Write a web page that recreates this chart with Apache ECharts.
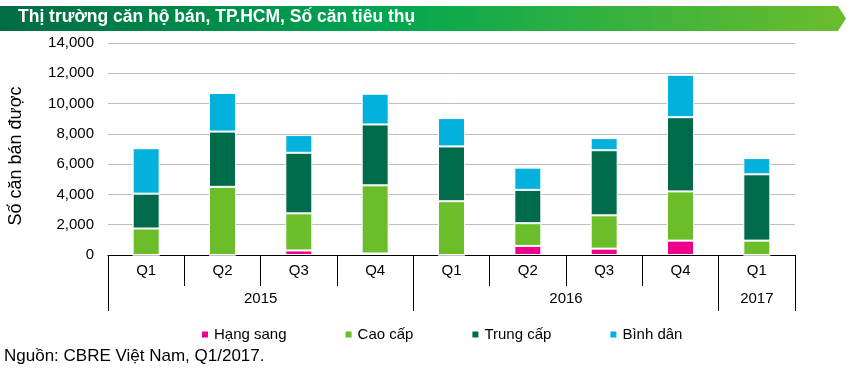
<!DOCTYPE html>
<html>
<head>
<meta charset="utf-8">
<script src="https://cdn.jsdelivr.net/npm/echarts@6/dist/echarts.min.js"></script>
<style>
  html, body { margin: 0; padding: 0; background: #fff; }
  #chart { width: 851px; height: 375px; }
</style>
</head>
<body>
<div id="chart"></div>
<script>
const quarters = ['Q1', 'Q2', 'Q3', 'Q4', 'Q1', 'Q2', 'Q3', 'Q4', 'Q1'];
const years = ['2015', '2016', '2017'];
const yearSpans = [4, 4, 1];

const hangSang = [0, 0, 300, 100, 0, 600, 420, 950, 0];
const caoCap = [1750, 4500, 2450, 4500, 3550, 1500, 2200, 3250, 950];
const trungCap = [2300, 3650, 4000, 4020, 3620, 2200, 4300, 4900, 4380];
const binhDan = [3000, 2550, 1170, 2030, 1870, 1470, 800, 2800, 1070];

const yTicks = [0, 2000, 4000, 6000, 8000, 10000, 12000, 14000];

const FONT = '"Liberation Sans", Arial, sans-serif';

// year row: half-category slots so labels sit in the middle of each year group
const yearSlots = [];
const yearLabelIdx = {};
const yearTickIdx = {0: true};
let pos = 0;
years.forEach((y, i) => {
  yearLabelIdx[pos + yearSpans[i]] = y;
  pos += yearSpans[i] * 2;
  yearTickIdx[pos] = true;
});
for (let i = 0; i <= quarters.length * 2; i++) {
  yearSlots.push(yearLabelIdx[i] || '');
}

const chart = echarts.init(document.getElementById('chart'));

const seriesDef = [
  {name: 'Hạng sang', data: hangSang, color: '#ec008c'},
  {name: 'Cao cấp', data: caoCap, color: '#6bbd29'},
  {name: 'Trung cấp', data: trungCap, color: '#006b4b'},
  {name: 'Bình dân', data: binhDan, color: '#03b1dd'},
];

const option = {
  animation: false,
  textStyle: {fontFamily: FONT},
  grid: {left: 108, right: 56, top: 43, bottom: 120, containLabel: false, outerBoundsMode: 'none'},
  legend: {
    left: 195,
    top: 322,
    icon: 'rect',
    itemWidth: 8,
    itemHeight: 8,
    itemGap: 57,
    textStyle: {fontSize: 15, color: '#000', fontFamily: FONT},
    data: seriesDef.map((s) => s.name),
  },
  graphic: [
    {
      type: 'polygon',
      shape: {points: [[0, 6], [838, 6], [846, 18.5], [838, 31], [0, 31]]},
      style: {
        fill: new echarts.graphic.LinearGradient(0, 0, 1, 0, [
          {offset: 0, color: '#006b45'},
          {offset: 0.45, color: '#00a651'},
          {offset: 1, color: '#6cbd2c'},
        ]),
      },
    },
    {
      type: 'text',
      left: 18,
      top: 8,
      style: {
        text: 'Thị trường căn hộ bán, TP.HCM, Số căn tiêu thụ',
        fill: '#fff',
        font: 'bold 17.5px ' + FONT,
      },
    },
    {
      type: 'text',
      left: 4,
      top: 348,
      style: {
        text: 'Nguồn: CBRE Việt Nam, Q1/2017.',
        fill: '#000',
        font: '17px ' + FONT,
      },
    },
  ],
  xAxis: [
    {
      type: 'category',
      data: quarters,
      axisLine: {lineStyle: {color: '#000', width: 1}},
      axisTick: {show: true, interval: 0, length: 31, lineStyle: {color: '#000'}},
      axisLabel: {color: '#000', fontSize: 15, margin: 8, interval: 0},
      splitLine: {show: false},
    },
    {
      type: 'category',
      data: yearSlots,
      boundaryGap: false,
      position: 'bottom',
      axisLine: {show: false},
      axisTick: {
        show: true,
        length: 56,
        interval: (idx) => !!yearTickIdx[idx],
        lineStyle: {color: '#000'},
      },
      axisLabel: {
        color: '#000',
        fontSize: 15,
        margin: 36,
        interval: (idx, val) => val !== '',
      },
      splitLine: {show: false},
    },
  ],
  yAxis: {
    type: 'value',
    min: yTicks[0],
    max: yTicks[yTicks.length - 1],
    interval: 2000,
    name: 'Số căn bán được',
    nameLocation: 'middle',
    nameGap: 83,
    nameRotate: 90,
    nameTextStyle: {fontSize: 18, color: '#000', padding: [0, 14, 0, 0]},
    axisLine: {show: false},
    axisTick: {show: false},
    axisLabel: {
      color: '#000',
      fontSize: 15,
      margin: 14,
      formatter: (v) => v.toLocaleString('en-US'),
    },
    splitLine: {lineStyle: {color: '#bfbfbf', width: 1}},
  },
  series: seriesDef.map((s) => ({
    name: s.name,
    type: 'bar',
    stack: 'total',
    barWidth: 27,
    xAxisIndex: 0,
    data: s.data,
    itemStyle: {color: s.color, borderColor: '#fff', borderWidth: 1},
  })),
};

chart.setOption(option);
</script>
</body>
</html>
